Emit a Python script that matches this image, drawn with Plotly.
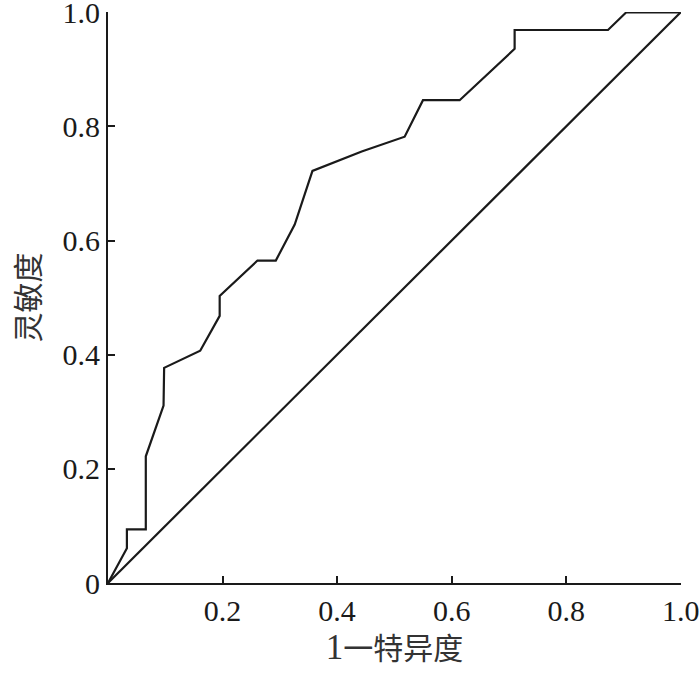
import plotly.graph_objects as go

# ROC curve points (1 - specificity, sensitivity)
fpr = [0, 0.033, 0.033, 0.066, 0.066, 0.097, 0.098, 0.161, 0.195, 0.195,
       0.261, 0.293, 0.326, 0.357, 0.443, 0.518, 0.550, 0.614, 0.710, 0.710,
       0.873, 0.905, 1.0]
tpr = [0, 0.061, 0.094, 0.094, 0.222, 0.311, 0.377, 0.407, 0.468, 0.503,
       0.565, 0.565, 0.628, 0.722, 0.756, 0.782, 0.846, 0.846, 0.936, 0.969,
       0.969, 1.0, 1.0]

ref_line = [0, 1]

x_ticks = [0.2, 0.4, 0.6, 0.8, 1.0]
x_ticktext = ["0.2", "0.4", "0.6", "0.8", "1.0"]
y_ticks = [0, 0.2, 0.4, 0.6, 0.8, 1.0]
y_ticktext = ["0", "0.2", "0.4", "0.6", "0.8", "1.0"]

fig = go.Figure()

fig.add_trace(go.Scatter(x=fpr, y=tpr, mode="lines",
                         line=dict(color="#1a1a1a", width=2.2),
                         showlegend=False, cliponaxis=False))
fig.add_trace(go.Scatter(x=ref_line, y=ref_line, mode="lines",
                         line=dict(color="#1a1a1a", width=2.2),
                         showlegend=False, cliponaxis=False))

tick_font = dict(family="Liberation Serif, Times New Roman, serif", size=30, color="#1a1a1a")
x_title_font = dict(family="Liberation Serif, Noto Sans CJK SC", size=30, color="#333333")
y_title_font = dict(family="Noto Sans CJK SC", size=30, color="#333333")

fig.update_layout(
    width=700, height=677,
    margin=dict(l=108, r=19, t=12, b=94),
    plot_bgcolor="white",
    paper_bgcolor="white",
    xaxis=dict(range=[0, 1.0005], tickvals=x_ticks, ticktext=x_ticktext,
               ticks="inside", ticklen=7, tickwidth=1.5, tickcolor="#1a1a1a",
               showline=True, linecolor="#1a1a1a", linewidth=2,
               showgrid=False, zeroline=False, tickfont=tick_font,
               automargin=False, ticklabeloverflow="allow",
               title=dict(text="<span style='font-size:35px'>1</span>一特异度",
                          font=x_title_font, standoff=12)),
    yaxis=dict(range=[0, 1.0005], tickvals=y_ticks, ticktext=y_ticktext,
               ticks="inside", ticklen=7, tickwidth=1.5, tickcolor="#1a1a1a",
               showline=True, linecolor="#1a1a1a", linewidth=2,
               showgrid=False, zeroline=False, tickfont=tick_font,
               automargin=False, ticklabeloverflow="allow",
               title=dict(text="灵敏度", font=y_title_font, standoff=14)),
)

# drop the default 8px page margin so the top "1.0" label is not clipped
fig.write_html("out.html", config={"displayModeBar": False},
               post_script="document.body.style.margin = '0px';")
